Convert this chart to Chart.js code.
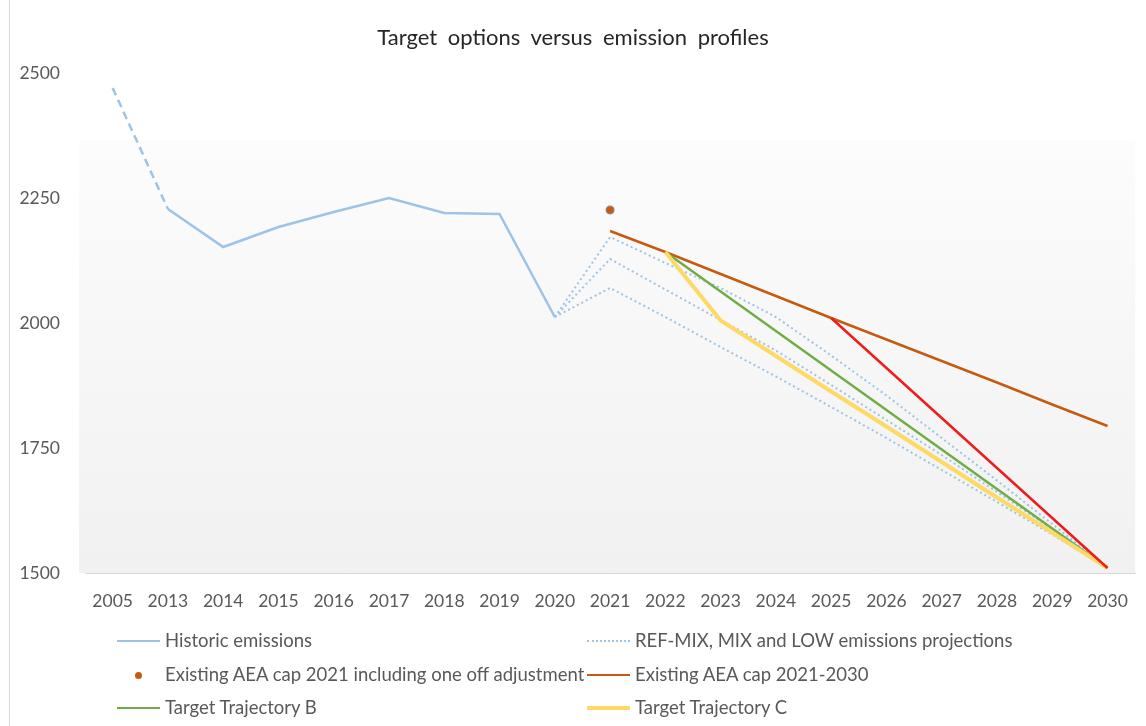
<!DOCTYPE html>
<html lang="en">
<head>
    <meta charset="UTF-8">
    <title>Target options versus emission profiles</title>
    <script src="https://cdn.jsdelivr.net/npm/chart.js"></script>
    <style>
        body { margin: 0; background: #fff; font-family: Lato, 'Noto Sans', sans-serif; }
        #wrap { position: relative; width: 1146px; height: 726px; }
        #edge { position: absolute; left: 9px; top: 0; width: 0; height: 726px; border-left: 1px solid #d9d9d9; }
        #title { position: absolute; left: 0; width: 1146px; top: 23px; text-align: center; font-size: 22px; color: #262626; word-spacing: 5px; }
        .item { position: absolute; font-size: 18.5px; color: #595959; line-height: 20px; white-space: nowrap; }
        .item .sw { display: inline-block; width: 43px; height: 0; vertical-align: middle; margin-right: 5px; position: relative; top: -1px; }
        .item .dot { display: inline-block; width: 7px; height: 7px; border-radius: 50%; background: #c55a11; margin: 0 23px 0 18px; vertical-align: middle; position: relative; top: -1px; }
    </style>
</head>
<body>
<div id="wrap">
    <canvas id="chart" width="1146" height="726"></canvas>
    <div id="edge"></div>
    <div id="title">Target options versus emission profiles</div>
    <div class="item" style="left:117px; top:630px;"><span class="sw" style="border-top:2.5px solid #9dc3e6"></span>Historic emissions</div>
    <div class="item" style="left:587px; top:630px;"><span class="sw" style="border-top:2px dotted #9dc3e6"></span>REF-MIX, MIX and LOW emissions projections</div>
    <div class="item" style="left:117px; top:664px;"><span class="dot"></span>Existing AEA cap 2021 including one off adjustment</div>
    <div class="item" style="left:587px; top:664px;"><span class="sw" style="border-top:2.5px solid #c55a11"></span>Existing AEA cap 2021-2030</div>
    <div class="item" style="left:117px; top:697px;"><span class="sw" style="border-top:2.5px solid #70ad47"></span>Target Trajectory B</div>
    <div class="item" style="left:587px; top:697px;"><span class="sw" style="border-top:4px solid #ffd966"></span>Target Trajectory C</div>
</div>
<script>
    const years = ['2005', '2013', '2014', '2015', '2016', '2017', '2018', '2019', '2020', '2021',
        '2022', '2023', '2024', '2025', '2026', '2027', '2028', '2029', '2030'];
    const yTicks = [1500, 1750, 2000, 2250, 2500];

    const historic = [2470, 2228, 2152, 2192, 2222, 2250, 2220, 2218, 2012,
        null, null, null, null, null, null, null, null, null, null];
    const refMix = [null, null, null, null, null, null, null, null, 2012,
        2172, 2120, 2070, 2012, 1935, 1855, 1770, 1685, 1598, 1510];
    const mix = [null, null, null, null, null, null, null, null, 2012,
        2128, 2067, 2006, 1945, 1876, 1806, 1736, 1662, 1588, 1510];
    const low = [null, null, null, null, null, null, null, null, 2012,
        2070, 2012, 1952, 1893, 1832, 1770, 1706, 1642, 1577, 1510];
    const capAdjusted = [null, null, null, null, null, null, null, null, null,
        2226, null, null, null, null, null, null, null, null, null];
    const cap = [null, null, null, null, null, null, null, null, null,
        2184, 2142, 2098, 2054, 2010, 1967, 1924, 1881, 1837, 1794];
    const trajB = [null, null, null, null, null, null, null, null, null, null,
        2142, 2063, 1984, 1905, 1826, 1747, 1668, 1589, 1510];
    const trajC = [null, null, null, null, null, null, null, null, null, null,
        2142, 2005, 1934, 1863, 1793, 1722, 1651, 1581, 1510];
    const trajA = [null, null, null, null, null, null, null, null, null, null,
        null, null, null, 2010, 1910, 1810, 1710, 1610, 1510];

    const blue = '#9dc3e6';

    function line(data, color, width, order, extra) {
        return Object.assign({
            data: data,
            borderColor: color,
            backgroundColor: color,
            borderWidth: width,
            pointRadius: 0,
            fill: false,
            tension: 0,
            order: order
        }, extra || {});
    }

    // soft grey fade behind the plot, like the original
    const plotBg = {
        id: 'plotBg',
        beforeDraw(chart) {
            const { ctx, chartArea } = chart;
            const top = chartArea.top + 67;
            const g = ctx.createLinearGradient(0, top, 0, chartArea.bottom);
            g.addColorStop(0, '#fcfcfc');
            g.addColorStop(1, '#f1f1f1');
            ctx.save();
            ctx.fillStyle = g;
            ctx.fillRect(chartArea.left - 6, top, chartArea.right - chartArea.left + 6, chartArea.bottom - top);
            ctx.restore();
        }
    };

    new Chart(document.getElementById('chart'), {
        type: 'line',
        data: {
            labels: years,
            datasets: [
                line(historic, blue, 2.5, 9, {
                    segment: { borderDash: c => c.p0DataIndex === 0 ? [8, 5] : undefined }
                }),
                line(refMix, blue, 2, 8, { borderDash: [2, 3] }),
                line(mix, blue, 2, 8, { borderDash: [2, 3] }),
                line(low, blue, 2, 8, { borderDash: [2, 3] }),
                line(capAdjusted, '#c55a11', 0, 5, {
                    showLine: false, pointRadius: 4, pointBackgroundColor: '#c55a11',
                    pointBorderColor: 'rgba(140,140,140,0.6)', pointBorderWidth: 1.5
                }),
                line(cap, '#c55a11', 2.5, 4),
                line(trajB, '#70ad47', 2.5, 3),
                line(trajC, '#ffd966', 4, 2),
                line(trajA, '#ee1c1c', 2.5, 1)
            ]
        },
        options: {
            responsive: false,
            animation: false,
            layout: { padding: { top: 73, right: 7, bottom: 113, left: 0 } },
            plugins: {
                legend: { display: false },
                title: { display: false },
                tooltip: { enabled: false }
            },
            scales: {
                x: {
                    offset: true,
                    grid: { display: false, drawTicks: false },
                    border: { display: true, color: '#d9d9d9', width: 1 },
                    ticks: { color: '#595959', font: { family: 'Lato', size: 17.5 }, padding: 18, maxRotation: 0, autoSkip: false },
                    afterFit: s => { s.height = 40; }
                },
                y: {
                    min: yTicks[0],
                    max: yTicks[yTicks.length - 1],
                    afterBuildTicks: s => { s.ticks = yTicks.map(v => ({ value: v })); },
                    grid: { display: false, drawTicks: false },
                    border: { display: false },
                    ticks: { color: '#595959', font: { family: 'Lato', size: 17.5 }, padding: 25, callback: v => String(v) },
                    afterFit: s => { s.width = 85; }
                }
            }
        },
        plugins: [plotBg]
    });
</script>
</body>
</html>
